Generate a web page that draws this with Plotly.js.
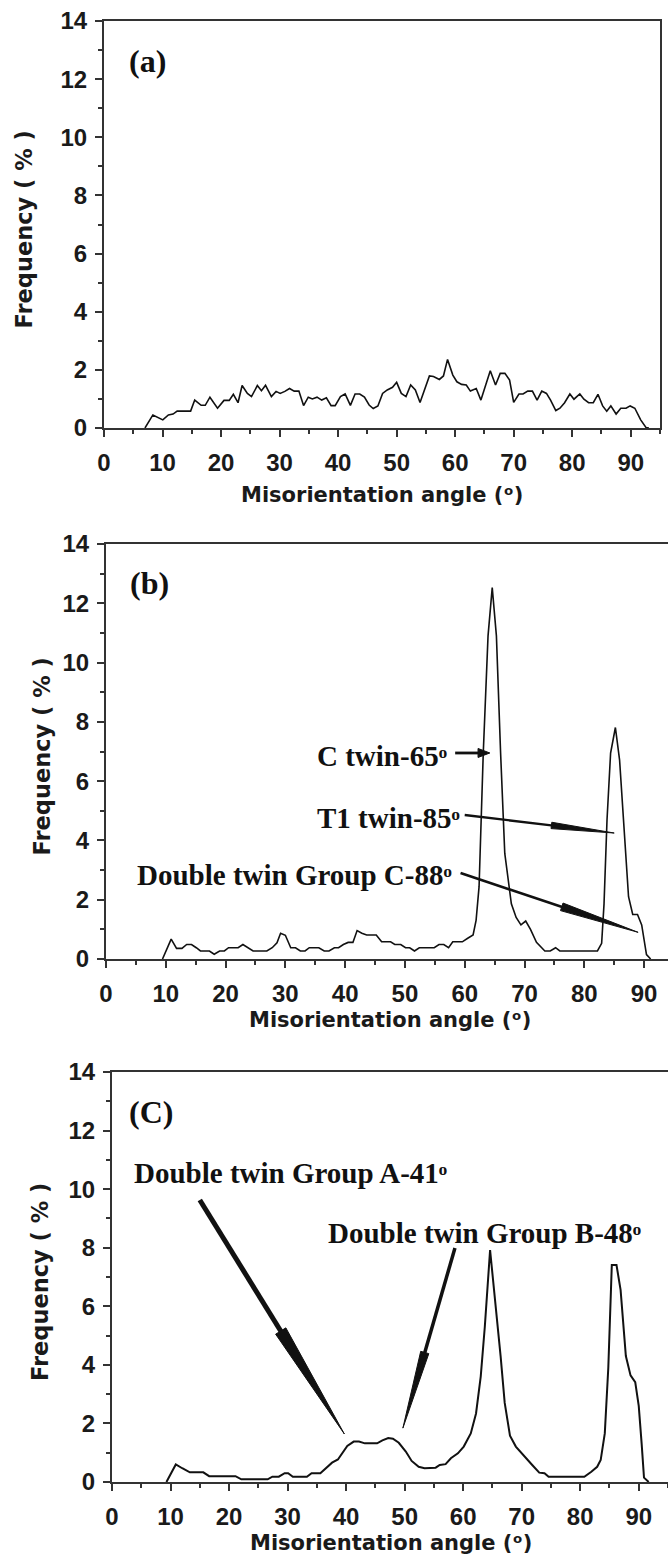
<!DOCTYPE html>
<html>
<head>
<meta charset="utf-8">
<script src="https://cdn.plot.ly/plotly-3.0.1.min.js"></script>
<style>html,body{margin:0;padding:0;background:#fff;}#chart{width:668px;height:1562px;}</style>
</head>
<body>
<div id="chart"></div>
<script>
// ---------- data ----------
const angleA = [7.0, 8.35, 10.05, 11.0, 11.8, 12.5, 14.8, 15.5, 16.6, 17.3, 18.1, 19.4, 20.5, 21.4, 22.1, 22.9, 23.6, 24.5, 25.2, 26.2, 26.9, 27.6, 28.6, 29.4, 30.1, 30.9, 31.7, 32.5, 33.3, 34.1, 34.9, 35.6, 36.4, 37.2, 38.0, 38.8, 39.5, 40.4, 41.2, 42.1, 42.9, 43.7, 44.5, 45.3, 46.0, 46.8, 47.6, 48.4, 49.3, 50.0, 50.8, 51.6, 52.4, 53.2, 54.0, 54.8, 55.6, 56.3, 57.3, 58.0, 58.7, 59.6, 60.3, 61.1, 61.9, 62.6, 63.6, 64.4, 65.2, 66.0, 66.9, 67.7, 68.5, 69.3, 70.0, 70.9, 71.6, 72.4, 73.2, 74.0, 74.8, 75.6, 76.3, 77.2, 77.9, 78.7, 79.6, 80.3, 81.3, 82.0, 82.8, 83.6, 84.4, 85.2, 85.9, 86.6, 87.5, 88.3, 89.2, 89.9, 90.7, 91.7, 92.6, 93.1];
const freqA  = [0, 0.45, 0.28, 0.45, 0.48, 0.58, 0.58, 0.96, 0.78, 0.78, 1.06, 0.68, 0.95, 0.95, 1.16, 0.87, 1.46, 1.19, 1.08, 1.46, 1.28, 1.47, 1.08, 1.26, 1.19, 1.26, 1.36, 1.27, 1.27, 0.77, 1.06, 1.0, 1.06, 0.96, 1.04, 0.77, 0.77, 1.08, 1.17, 0.78, 1.17, 1.17, 1.06, 0.79, 0.67, 0.76, 1.19, 1.31, 1.4, 1.57, 1.19, 1.08, 1.48, 1.31, 0.88, 1.36, 1.79, 1.77, 1.67, 1.79, 2.36, 1.82, 1.59, 1.5, 1.48, 1.27, 1.36, 0.96, 1.48, 1.97, 1.48, 1.88, 1.88, 1.65, 0.88, 1.17, 1.17, 1.27, 1.27, 0.96, 1.27, 1.19, 0.96, 0.6, 0.68, 0.87, 1.17, 0.99, 1.17, 0.99, 0.87, 0.87, 1.16, 0.76, 0.58, 0.76, 0.48, 0.68, 0.68, 0.76, 0.68, 0.28, 0.02, 0];

const angleB = [9.45, 10.9, 11.8, 12.7, 13.5, 14.3, 15.1, 15.8, 17.3, 18.1, 19.0, 19.8, 20.5, 22.1, 22.9, 23.7, 24.6, 26.9, 27.8, 28.6, 29.2, 30.0, 30.9, 31.7, 32.5, 33.3, 34.0, 35.6, 36.5, 37.3, 38.2, 38.9, 39.7, 40.5, 41.3, 42.0, 42.8, 43.6, 45.2, 46.1, 47.6, 48.3, 49.3, 50.1, 50.8, 51.6, 52.4, 54.9, 55.7, 56.5, 57.3, 58.0, 59.6, 60.5, 61.4, 61.9, 62.4, 63.1, 63.9, 64.6, 65.3, 66.0, 66.7, 67.8, 68.6, 69.4, 70.2, 71.0, 72.0, 73.4, 74.3, 75.2, 75.9, 82.2, 82.9, 83.3, 83.8, 84.4, 85.2, 85.9, 86.7, 87.4, 88.1, 88.9, 89.6, 90.4, 91.1];
const freqB  = [0, 0.67, 0.36, 0.36, 0.49, 0.49, 0.38, 0.27, 0.27, 0.16, 0.27, 0.27, 0.38, 0.38, 0.49, 0.38, 0.27, 0.27, 0.38, 0.55, 0.87, 0.8, 0.38, 0.38, 0.27, 0.27, 0.38, 0.38, 0.27, 0.27, 0.38, 0.38, 0.49, 0.56, 0.56, 0.96, 0.87, 0.81, 0.81, 0.58, 0.58, 0.49, 0.49, 0.38, 0.38, 0.27, 0.38, 0.38, 0.49, 0.49, 0.38, 0.58, 0.58, 0.7, 0.81, 1.3, 2.44, 6.95, 10.9, 12.53, 10.9, 6.95, 3.56, 1.86, 1.4, 1.15, 1.28, 1.0, 0.56, 0.27, 0.27, 0.38, 0.27, 0.27, 0.53, 1.86, 4.7, 6.95, 7.81, 6.72, 4.13, 2.1, 1.5, 1.5, 1.15, 0.15, 0];

const angleC = [9.3, 10.9, 12.0, 13.3, 15.6, 16.6, 21.1, 22.1, 26.6, 27.4, 28.5, 29.5, 30.1, 30.9, 33.3, 34.1, 35.6, 36.5, 37.6, 38.6, 39.4, 40.2, 41.3, 42.2, 43.2, 45.3, 46.2, 47.2, 48.0, 49.0, 50.2, 51.2, 52.4, 53.4, 55.3, 56.0, 57.0, 57.9, 59.1, 60.1, 61.3, 62.2, 63.0, 63.7, 64.6, 65.6, 66.4, 67.1, 68.0, 69.0, 70.5, 71.8, 73.0, 73.9, 74.6, 80.7, 81.9, 82.9, 83.5, 84.2, 84.8, 85.4, 86.2, 86.9, 87.8, 88.6, 89.4, 90.0, 90.5, 90.9, 91.7];
const freqC  = [0, 0.6, 0.47, 0.33, 0.33, 0.2, 0.2, 0.09, 0.09, 0.18, 0.18, 0.3, 0.3, 0.18, 0.18, 0.3, 0.3, 0.47, 0.66, 0.77, 1.0, 1.23, 1.38, 1.38, 1.32, 1.32, 1.42, 1.5, 1.48, 1.34, 1.04, 0.72, 0.52, 0.47, 0.49, 0.58, 0.61, 0.81, 0.98, 1.21, 1.66, 2.34, 3.6, 5.3, 7.92, 5.98, 4.3, 2.7, 1.58, 1.21, 0.86, 0.58, 0.32, 0.3, 0.18, 0.18, 0.35, 0.52, 0.75, 1.66, 3.9, 7.41, 7.41, 6.56, 4.3, 3.64, 3.41, 2.6, 1.3, 0.15, 0];

const panelLabels = ['(a)', '(b)', '(C)'];
const xTitle = 'Misorientation angle (\u1D52)';
const yTitle = 'Frequency ( % )';
const noteTexts = ['C twin-65\u1D52', 'T1 twin-85\u1D52', 'Double twin Group C-88\u1D52',
                   'Double twin Group A-41\u1D52', 'Double twin Group B-48\u1D52'];

// ---------- layout geometry (pixels) ----------
const W = 668, H = 1562;
const P = [
  {L:104, R:660, T:21,   B:428,  xr:[0,95], mirrorY:true,  ytx:24, xty:495,  xtx:382},
  {L:106, R:668, T:544,  B:959,  xr:[0,94], mirrorY:false, ytx:41, xty:1020, xtx:390},
  {L:112, R:668, T:1072, B:1482, xr:[0,95], mirrorY:false, ytx:40, xty:1543, xtx:391}
];
const px2paperX = x => x / W;
const px2paperY = y => 1 - y / H;
function toPx(i, x, y) {
  const p = P[i];
  return [p.L + (x - p.xr[0]) / (p.xr[1] - p.xr[0]) * (p.R - p.L), p.B - y / 14 * (p.B - p.T)];
}

const LINE = '#333';
const INK = '#111';
const tickFont = {family: 'Liberation Sans, Arial, sans-serif', size: 24, color: '#1a1a1a', weight: 'bold'};
const titleFont = {family: 'DejaVu Sans, Liberation Sans, sans-serif', size: 21, color: '#1a1a1a', weight: 'bold'};
const yTitleFont = {family: 'DejaVu Sans, Liberation Sans, sans-serif', size: 22.5, color: '#1a1a1a', weight: 'bold'};
const serifFont = {family: 'Liberation Serif, Times New Roman, serif', size: 29, color: INK, weight: 'bold'};

const layout = {
  width: W, height: H, margin: {l:0, r:0, t:0, b:0},
  paper_bgcolor: '#fff', plot_bgcolor: '#fff', showlegend: false,
  annotations: [], shapes: []
};

const series = [[angleA, freqA], [angleB, freqB], [angleC, freqC]];
const traces = [];
P.forEach((p, i) => {
  const sx = i === 0 ? '' : String(i + 1);
  traces.push({x: series[i][0], y: series[i][1], type: 'scatter', mode: 'lines',
    xaxis: 'x' + sx, yaxis: 'y' + sx, line: {color: INK, width: i === 2 ? 2 : 1.6}, hoverinfo: 'skip'});
  layout['xaxis' + sx] = {
    domain: [px2paperX(p.L), px2paperX(p.R)], range: p.xr, anchor: 'y' + sx,
    showgrid: false, zeroline: false, showline: true, linecolor: LINE, linewidth: 2, mirror: true,
    ticks: 'outside', ticklen: 7, tickwidth: 2, tickcolor: LINE, tick0: 0, dtick: 10,
    tickfont: tickFont, ticklabelstandoff: 5,
    minor: {dtick: 5, tick0: 0, ticks: 'outside', ticklen: 4, tickwidth: 2, tickcolor: LINE, showgrid: false}
  };
  layout['yaxis' + sx] = {
    domain: [px2paperY(p.B), px2paperY(p.T)], range: [0, 14], anchor: 'x' + sx,
    showgrid: false, zeroline: false, showline: true, linecolor: LINE, linewidth: 2, mirror: p.mirrorY,
    ticks: 'outside', ticklen: 7, tickwidth: 2, tickcolor: LINE, tick0: 0, dtick: 2,
    tickfont: tickFont, ticklabelstandoff: 3,
    minor: {dtick: 1, tick0: 0, ticks: 'outside', ticklen: 4, tickwidth: 2, tickcolor: LINE, showgrid: false}
  };
  layout.annotations.push({xref: 'paper', yref: 'paper', x: px2paperX(p.xtx), y: px2paperY(p.xty),
    xanchor: 'center', yanchor: 'middle', showarrow: false, text: xTitle, font: titleFont});
  layout.annotations.push({xref: 'paper', yref: 'paper', x: px2paperX(p.ytx), y: px2paperY((p.T + p.B) / 2 + 5),
    xanchor: 'center', yanchor: 'middle', showarrow: false, text: yTitle, font: yTitleFont, textangle: -90});
  const lab = [[4.0, 12.62], [3.6, 12.69], [2.6, 12.63]][i];
  layout.annotations.push({xref: 'x' + sx, yref: 'y' + sx, x: lab[0], y: lab[1], xanchor: 'left', yanchor: 'middle',
    showarrow: false, text: panelLabels[i], font: {family: serifFont.family, size: 32, color: INK, weight: 'bold'}});
});

function note(i, x, y, text, anchor) {
  const sx = i === 0 ? '' : String(i + 1);
  layout.annotations.push({xref: 'x' + sx, yref: 'y' + sx, x: x, y: y, xanchor: anchor, yanchor: 'middle',
    showarrow: false, text: text, font: serifFont});
}
note(1, 57.3, 6.85, noteTexts[0], 'right');
note(1, 59.5, 4.75, noteTexts[1], 'right');
note(1, 58.2, 2.85, noteTexts[2], 'right');
note(2, 3.4, 10.55, noteTexts[3], 'left');
note(2, 36.6, 8.5, noteTexts[4], 'left');

// arrows: straight shaft plus a tapered filled head (Origin style)
function wedge(i, start, tip, frac, shaftW, half) {
  const a = toPx(i, start[0], start[1]);
  const b = toPx(i, tip[0], tip[1]);
  const base = [a[0] + frac * (b[0] - a[0]), a[1] + frac * (b[1] - a[1])];
  const dx = b[0] - a[0], dy = b[1] - a[1], len = Math.hypot(dx, dy);
  const nx = -dy / len, ny = dx / len;
  layout.shapes.push({type: 'line', xref: 'paper', yref: 'paper',
    x0: px2paperX(a[0]), y0: px2paperY(a[1]), x1: px2paperX(base[0] + dx / len * 2), y1: px2paperY(base[1] + dy / len * 2),
    line: {color: INK, width: shaftW}});
  const pts = [[base[0] + nx * half, base[1] + ny * half], [b[0], b[1]], [base[0] - nx * half, base[1] - ny * half]];
  const path = 'M ' + pts.map(q => px2paperX(q[0]).toFixed(6) + ',' + px2paperY(q[1]).toFixed(6)).join(' L ') + ' Z';
  layout.shapes.push({type: 'path', xref: 'paper', yref: 'paper', path: path,
    fillcolor: INK, line: {color: INK, width: 1}});
}
wedge(1, [58.4, 6.95], [64.2, 6.95], 0.66, 2.8, 4.5);
wedge(1, [60.0, 4.86], [85.0, 4.25], 0.58, 2.4, 3.2);
wedge(1, [59.3, 2.9], [89.0, 0.9], 0.57, 2.6, 4.0);
wedge(2, [15.0, 9.63], [39.7, 1.64], 0.56, 5, 6);
wedge(2, [58.6, 7.99], [49.7, 1.84], 0.58, 3.5, 4.2);

Plotly.newPlot('chart', traces, layout, {staticPlot: true, displayModeBar: false});
</script>
</body>
</html>
